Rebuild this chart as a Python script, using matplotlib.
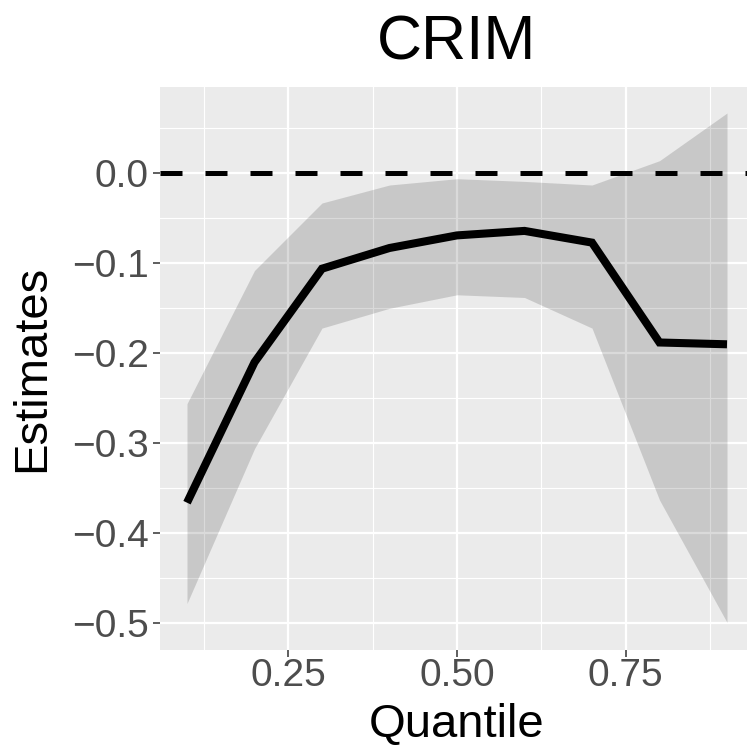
import matplotlib
matplotlib.use("Agg")
import matplotlib.pyplot as plt
import numpy as np

# Quantile regression estimates for CRIM
quantiles = [0.1, 0.2, 0.3, 0.4, 0.5, 0.6, 0.7, 0.8, 0.9]
estimates = [-0.366, -0.210, -0.106, -0.083, -0.069, -0.064, -0.077, -0.188, -0.190]
upper = [-0.256, -0.108, -0.033, -0.013, -0.006, -0.009, -0.013, 0.014, 0.067]
lower = [-0.478, -0.306, -0.172, -0.150, -0.135, -0.138, -0.172, -0.363, -0.499]

x_ticks = [0.25, 0.50, 0.75]
x_labels = ["0.25", "0.50", "0.75"]
y_ticks = [-0.5, -0.4, -0.3, -0.2, -0.1, 0.0]
y_labels = ["\u22120.5", "\u22120.4", "\u22120.3", "\u22120.2", "\u22120.1", "0.0"]

plt.rcParams['font.family'] = ['Liberation Sans', 'DejaVu Sans']

fig = plt.figure(figsize=(7.47, 7.51), dpi=100)
ax = fig.add_axes([160/747, 1 - 650/751, (754 - 160)/747, (650 - 87)/751])
ax.set_facecolor('#EBEBEB')
for s in ax.spines.values():
    s.set_visible(False)

# grid (ggplot style)
ax.set_xticks(x_ticks)
ax.set_xticks([0.125, 0.375, 0.625, 0.875], minor=True)
ax.set_yticks(y_ticks)
ax.set_yticks([-0.45, -0.35, -0.25, -0.15, -0.05, 0.05], minor=True)
ax.grid(which='major', color='white', linewidth=1.6)
ax.grid(which='minor', color='white', linewidth=0.8)
ax.set_axisbelow(True)

ax.fill_between(quantiles, lower, upper, color='black', alpha=0.145, linewidth=0)
ax.plot(quantiles, estimates, color='black', linewidth=5.8, solid_joinstyle='miter', solid_capstyle='butt')
ax.axhline(0, color='black', linewidth=3.6, dashes=(4.4, 4.6))

ax.set_xlim(0.06, 0.94)
ax.set_ylim(-0.5297, 0.0959)

ax.set_xticklabels(x_labels)
ax.set_yticklabels(y_labels)
ax.tick_params(which='major', length=5, width=1.1, color='#333333', labelcolor='#4D4D4D',
               labelsize=28)
ax.tick_params(axis='x', pad=1)
ax.tick_params(axis='y', pad=3)
ax.tick_params(which='minor', length=0)

ax.set_xlabel('Quantile', fontsize=34, va='baseline')
ax.xaxis.set_label_coords(0.5, (650 - 737) / 563)
ax.set_ylabel('Estimates', fontsize=34, labelpad=13)
fig.text(457/747, 1 - 59/751, 'CRIM', fontsize=45, ha='center', va='baseline')

fig.savefig('out.png', dpi=100)
